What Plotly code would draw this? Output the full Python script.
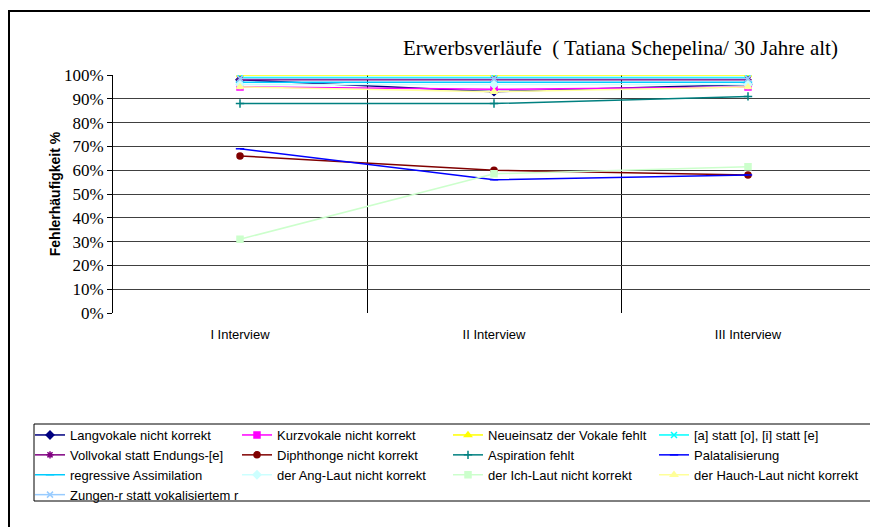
import plotly.graph_objects as go

categories = ["I Interview", "II Interview", "III Interview"]

series_names = [
    "Langvokale nicht korrekt",
    "Kurzvokale nicht korrekt",
    "Neueinsatz der Vokale fehlt",
    "[a] statt [o], [i] statt [e]",
    "Vollvokal statt Endungs-[e]",
    "Diphthonge nicht korrekt",
    "Aspiration fehlt",
    "Palatalisierung",
    "regressive Assimilation",
    "der Ang-Laut nicht korrekt",
    "der Ich-Laut nicht korrekt",
    "der Hauch-Laut nicht korrekt",
    "Zungen-r statt vokalisiertem r",
]

langvokale = [98, 93, 96]
kurzvokale = [95, 94, 95]
neueinsatz = [100, 100, 100]
a_statt_o = [99, 99, 99]
vollvokal = [98, 98, 98]
diphthonge = [66, 60, 58]
aspiration = [88, 88, 91]
palatalisierung = [69, 56, 58]
regressive = [97, 97, 97]
ang_laut = [96, 96, 96]
ich_laut = [31, 58.5, 61.5]
hauch_laut = [95, 93, 95]
zungen_r = [98.5, 98.5, 98.5]

series_values = [langvokale, kurzvokale, neueinsatz, a_statt_o, vollvokal, diphthonge,
                 aspiration, palatalisierung, regressive, ang_laut, ich_laut, hauch_laut, zungen_r]

y_ticks = [0, 10, 20, 30, 40, 50, 60, 70, 80, 90, 100]
y_tick_labels = [f"{v}%" for v in y_ticks]

colors = ["#000080", "#FF00FF", "#FFFF00", "#00FFFF", "#800080", "#800000", "#008080",
          "#0000FF", "#00CCFF", "#CCFFFF", "#CCFFCC", "#FFFF99", "#99CCFF"]
symbols = ["diamond", "square", "triangle-up", "x-thin-open", "asterisk-open", "circle",
           "cross-thin-open", "line-ew-open", "line-ew-open", "diamond", "square",
           "triangle-up", "x-thin-open"]

W, H = 870, 527
# plot area in page pixels (the reference plot area runs past the right edge)
L, R, T, B = 113, 870, 75, 313
CAT_W = 254  # pixels per category
pw, ph = R - L, B - T

def px(x):  # pixel x -> paper
    return (x - L) / pw

def py(y):  # pixel y -> paper
    return (B - y) / ph

fig = go.Figure()
xs = list(range(len(categories)))
legend_ids = ["legend", "legend2", "legend3", "legend4"]
for i, (name, vals) in enumerate(zip(series_names, series_values)):
    fig.add_trace(go.Scatter(
        x=xs, y=vals, name=name, mode="lines+markers",
        line=dict(color=colors[i], width=1.5),
        marker=dict(symbol=symbols[i], size=6, color=colors[i],
                    line=dict(color=colors[i], width=1.5)),
        legend=legend_ids[i % 4],
    ))

leg_font = dict(family="Liberation Sans, Arial", size=13, color="black")
col_text_x = [70, 277, 488, 694]
legend_cfg = {}
for k, lid in enumerate(legend_ids):
    legend_cfg[lid] = dict(
        x=px(col_text_x[k] - 40), xanchor="left",
        y=py(420), yanchor="top",
        orientation="v", font=leg_font, bgcolor="rgba(0,0,0,0)",
        borderwidth=0, tracegroupgap=0, itemwidth=30,
    )

x_max = -0.5 + (R - L) / CAT_W

fig.update_layout(
    width=W, height=H,
    margin=dict(l=L, r=W - R, t=T, b=H - B),
    paper_bgcolor="white", plot_bgcolor="white",
    showlegend=True,
    xaxis=dict(
        range=[-0.5, x_max], tickvals=xs, ticktext=categories,
        showgrid=False, zeroline=False, showline=False, ticks="",
        tickfont=dict(family="Liberation Sans, Arial", size=13, color="black"),
        ticklabelstandoff=12,
        minor=dict(tickvals=[0.5, 1.5], showgrid=True, gridcolor="black", gridwidth=1),
    ),
    yaxis=dict(
        range=[0, 100], tickvals=y_ticks, ticktext=y_tick_labels,
        showgrid=True, gridcolor="#404040", gridwidth=1.2,
        zeroline=False, showline=True, linecolor="black", linewidth=1,
        ticks="outside", ticklen=5, tickcolor="black",
        tickfont=dict(family="Liberation Serif, Times New Roman", size=17, color="black"),
        title=dict(text="<b>Fehlerhäufigkeit %</b>",
                   font=dict(family="Liberation Sans, Arial", size=14, color="black"),
                   standoff=0),
    ),
    **legend_cfg,
)

# chart title
fig.add_annotation(
    text="Erwerbsverläufe  ( Tatiana Schepelina/ 30 Jahre alt)",
    xref="paper", yref="paper", x=px(620), y=py(48), xanchor="center", yanchor="middle",
    showarrow=False, font=dict(family="Liberation Serif, Times New Roman", size=21, color="black"),
)

# outer chart border (right and bottom edges lie outside the view)
fig.add_shape(type="rect", xref="paper", yref="paper",
              x0=px(9), x1=px(900), y0=py(560), y1=py(11),
              line=dict(color="black", width=2), fillcolor="rgba(0,0,0,0)", layer="above")
# legend box
fig.add_shape(type="rect", xref="paper", yref="paper",
              x0=px(34), x1=px(900), y0=py(501), y1=py(424),
              line=dict(color="black", width=1), fillcolor="rgba(0,0,0,0)", layer="above")

fig.write_html(
    "out.html",
    config={"displayModeBar": False},
    post_script="document.body.style.margin='0px';document.body.style.overflow='hidden';",
)
